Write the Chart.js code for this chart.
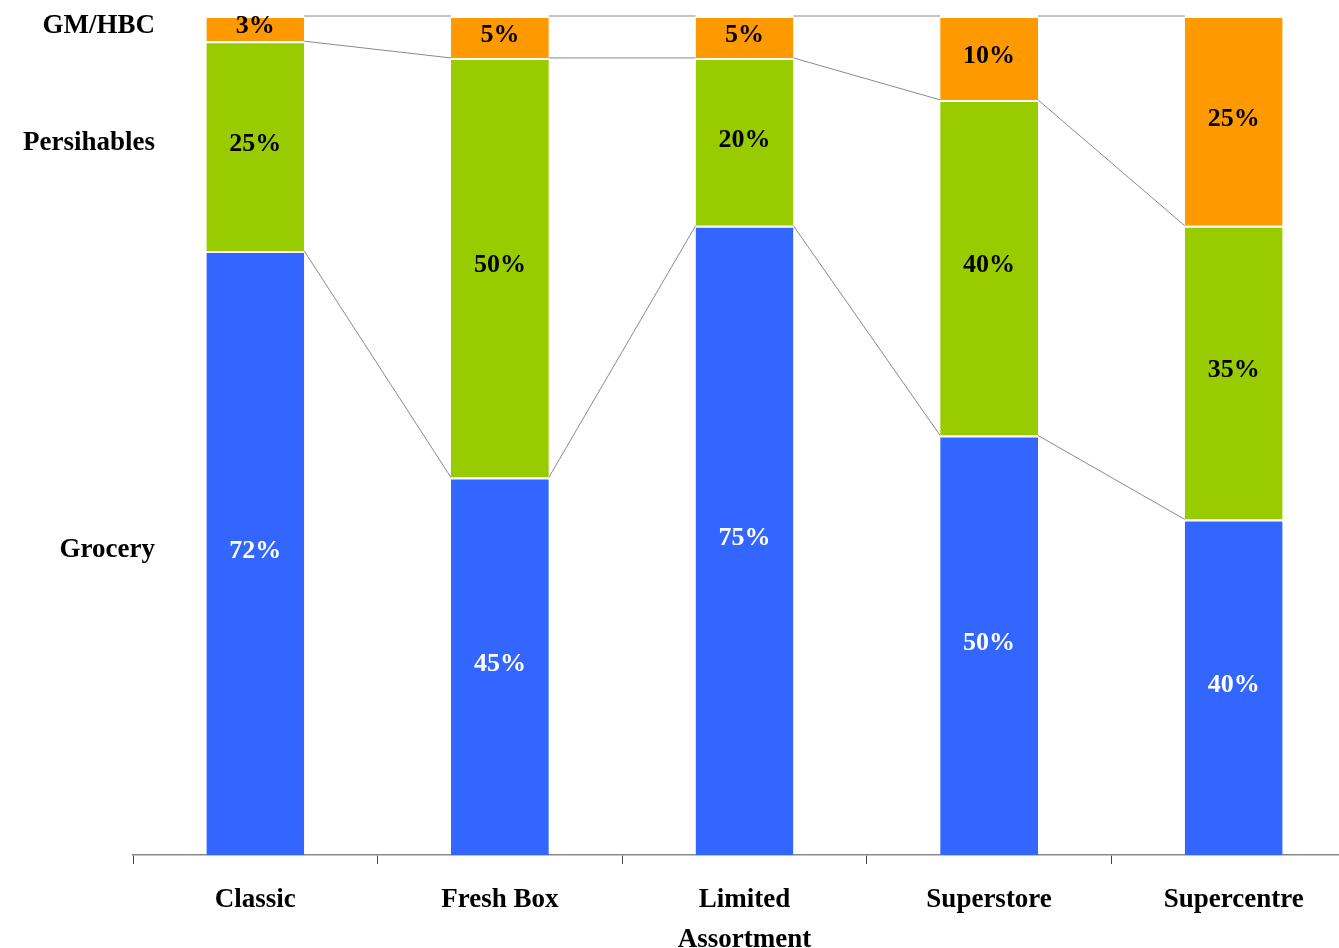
<!DOCTYPE html>
<html>
<head>
<meta charset="utf-8">
<script src="https://cdn.jsdelivr.net/npm/chart.js@4/dist/chart.umd.min.js"></script>
<style>
  html, body { margin: 0; padding: 0; background: #fff; overflow: hidden; }
  #wrap { position: relative; width: 1362px; height: 948px; }
</style>
</head>
<body>
<div id="wrap"><canvas id="c" width="1362" height="948"></canvas></div>
<script>
// Store formats and their sales mix (% of sales)
const formats = ['Classic', 'Fresh Box', ['Limited', 'Assortment'], 'Superstore', 'Supercentre'];
const grocery = [72, 45, 75, 50, 40];
const perishables = [25, 50, 20, 40, 35];
const gmHbc = [3, 5, 5, 10, 25];
const seriesNames = ['Grocery', 'Persihables', 'GM/HBC'];

const SERIF = '"Liberation Serif", "Times New Roman", serif';

// Thin grey connector lines joining each stack level between neighbouring bars
const seriesLines = {
  id: 'seriesLines',
  beforeDatasetsDraw(chart) {
    const ctx = chart.ctx;
    const y = chart.scales.y;
    const metas = chart.data.datasets.map((d, i) => chart.getDatasetMeta(i));
    ctx.save();
    ctx.strokeStyle = '#8a8a8a';
    ctx.lineWidth = 1;
    for (let i = 0; i < formats.length - 1; i++) {
      let cumA = 0, cumB = 0;
      chart.data.datasets.forEach((ds, k) => {
        cumA += ds.data[i];
        cumB += ds.data[i + 1];
        const a = metas[k].data[i], b = metas[k].data[i + 1];
        ctx.beginPath();
        ctx.moveTo(a.x + a.width / 2, y.getPixelForValue(cumA));
        ctx.lineTo(b.x - b.width / 2, y.getPixelForValue(cumB));
        ctx.stroke();
      });
    }
    ctx.restore();
  }
};

// Percentage inside each segment, plus series names on the left of the first bar
const segmentLabels = {
  id: 'segmentLabels',
  afterDatasetsDraw(chart) {
    const ctx = chart.ctx;
    ctx.save();
    ctx.textAlign = 'center';
    ctx.textBaseline = 'middle';
    ctx.font = 'bold 26px ' + SERIF;
    chart.data.datasets.forEach((ds, k) => {
      const meta = chart.getDatasetMeta(k);
      meta.data.forEach((bar, i) => {
        const cy = (bar.y + bar.base) / 2 - 2;
        ctx.fillStyle = k === 0 ? '#ffffff' : '#000000';
        ctx.fillText(ds.data[i] + '%', bar.x, cy);
      });
    });
    ctx.font = 'bold 27px ' + SERIF;
    ctx.textAlign = 'right';
    ctx.fillStyle = '#000';
    chart.data.datasets.forEach((ds, k) => {
      const bar = chart.getDatasetMeta(k).data[0];
      const cy = (bar.y + bar.base) / 2 - 3;
      ctx.fillText(seriesNames[k], 155, cy);
    });
    ctx.restore();
  }
};

const segBorder = { top: 2, bottom: 0, left: 0, right: 0 };

new Chart(document.getElementById('c'), {
  type: 'bar',
  data: {
    labels: formats,
    datasets: [
      { label: seriesNames[0], data: grocery, backgroundColor: '#3366ff', borderColor: '#ffffff', borderWidth: segBorder, borderSkipped: false },
      { label: seriesNames[1], data: perishables, backgroundColor: '#99cc00', borderColor: '#ffffff', borderWidth: segBorder, borderSkipped: false },
      { label: seriesNames[2], data: gmHbc, backgroundColor: '#ff9900', borderColor: '#ffffff', borderWidth: segBorder, borderSkipped: false }
    ]
  },
  options: {
    responsive: false,
    animation: false,
    barPercentage: 0.8,
    categoryPercentage: 0.5,
    layout: { padding: { left: 133, right: 6, top: 16, bottom: 0 } },
    plugins: { legend: { display: false }, tooltip: { enabled: false } },
    scales: {
      x: {
        stacked: true,
        afterFit(s) { s.height = 93; },
        border: { display: true, color: '#888', width: 1.5 },
        grid: { display: true, drawOnChartArea: false, drawTicks: true, tickLength: 9, color: '#444', offset: true },
        ticks: {
          color: '#000',
          padding: 16,
          font: { family: SERIF, size: 27, weight: 'bold', lineHeight: 1.48 },
          maxRotation: 0,
          autoSkip: false
        }
      },
      y: {
        stacked: true,
        display: false,
        min: 0,
        max: 100
      }
    }
  },
  plugins: [seriesLines, segmentLabels]
});
</script>
</body>
</html>
